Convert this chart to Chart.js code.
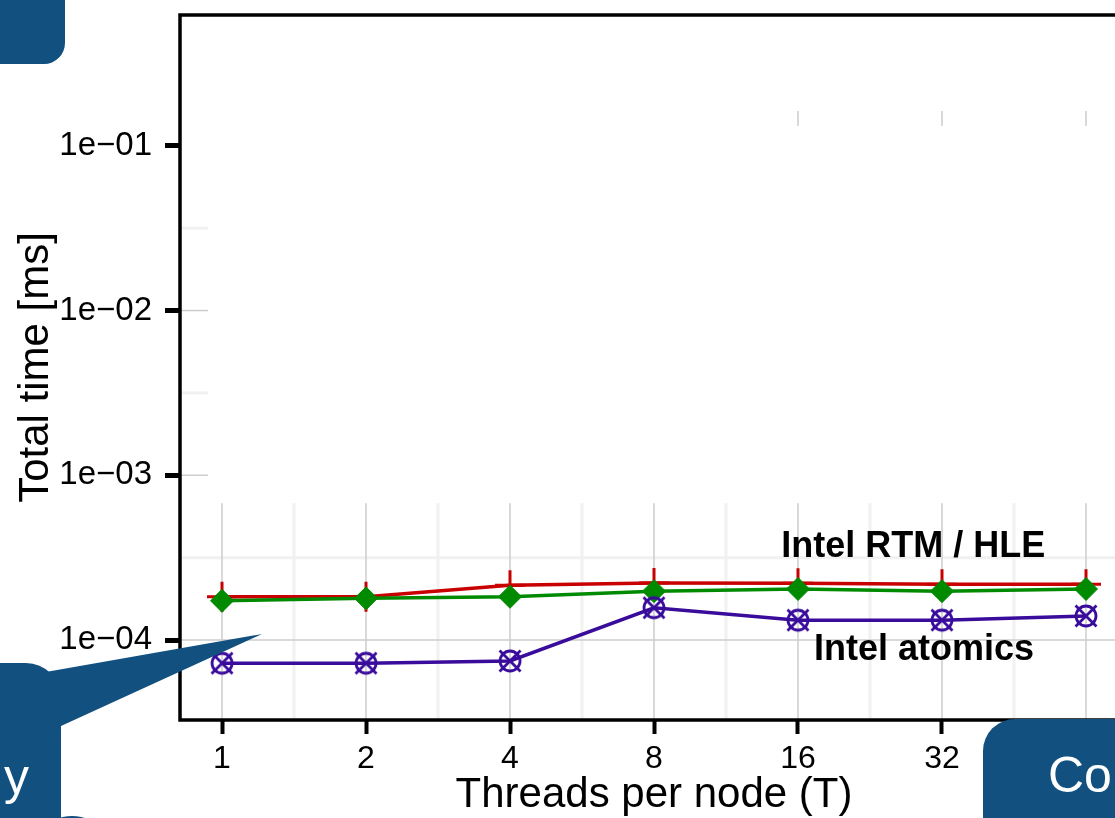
<!DOCTYPE html>
<html>
<head>
<meta charset="utf-8">
<script src="https://cdn.jsdelivr.net/npm/chart.js@4/dist/chart.umd.min.js"></script>
<style>
  html, body { margin: 0; padding: 0; background: #fff; overflow: hidden; width: 1115px; height: 818px; }
  #wrap { position: relative; width: 1115px; height: 818px; overflow: hidden; }
  #c { position: absolute; left: 0; top: -3px; }
  #overlay { position: absolute; left: 0; top: 0; }
</style>
</head>
<body>
<div id="wrap">
  <canvas id="c" width="1160" height="821"></canvas>
  <svg id="overlay" width="1115" height="818" xmlns="http://www.w3.org/2000/svg">
    <g fill="#11507f">
      <rect x="-40" y="-40" width="105" height="104" rx="21"/>
      <rect x="-60" y="663" width="121" height="220" rx="35"/>
      <polygon points="40,673 262,634 61,726 45,740"/>
      <ellipse cx="72" cy="829" rx="24" ry="13"/>
      <rect x="983" y="719" width="220" height="160" rx="32"/>
    </g>
    <g fill="#ffffff" font-family="Liberation Sans, Arial, sans-serif" font-size="50">
      <text x="4" y="794">y</text>
      <text x="1048" y="792">Cor</text>
    </g>
  </svg>
</div>
<script>
// Threads per node (x categories) and total time in ms per series
const threadLabels = ['1', '2', '4', '8', '16', '32', '64'];
const rtmTimes     = [1.83e-4, 1.83e-4, 2.15e-4, 2.22e-4, 2.21e-4, 2.18e-4, 2.18e-4];
const hleTimes     = [1.73e-4, 1.79e-4, 1.83e-4, 1.98e-4, 2.04e-4, 1.98e-4, 2.04e-4];
const atomicTimes  = [7.23e-5, 7.23e-5, 7.46e-5, 1.57e-4, 1.32e-4, 1.32e-4, 1.40e-4];

// Y axis ticks (log scale)
const yTickValues = [1e-4, 1e-3, 1e-2, 1e-1];
const yTickLabels = ['1e\u221204', '1e\u221203', '1e\u221202', '1e\u221201'];
const yMinorValues = [3.162e-4, 3.162e-3, 3.162e-2];

const FONT = 'Liberation Sans, Arial, Helvetica, sans-serif';
const RED = '#c80000', GREEN = '#008a00', PURPLE = '#3a0c9c';

// Grid is shown only in the lower band of the panel
const gridBandTop = 6.77e-4;

const toPoints = arr => arr.map((v, i) => ({ x: i, y: v }));

function crossedCircle(color) {
  const s = 28, c = document.createElement('canvas');
  c.width = s; c.height = s;
  const g = c.getContext('2d');
  g.strokeStyle = color; g.lineWidth = 2.8;
  g.beginPath(); g.arc(s / 2, s / 2, 10, 0, Math.PI * 2); g.stroke();
  g.beginPath();
  g.moveTo(s / 2 - 10.5, s / 2 - 10.5); g.lineTo(s / 2 + 10.5, s / 2 + 10.5);
  g.moveTo(s / 2 + 10.5, s / 2 - 10.5); g.lineTo(s / 2 - 10.5, s / 2 + 10.5);
  g.stroke();
  return c;
}

const labelNotes = [
  { text: 'Intel RTM / HLE', x: 4.80, y: 3.18e-4 },
  { text: 'Intel atomics',   x: 4.875, y: 7.56e-5 }
];

const bandGrid = {
  id: 'bandGrid',
  beforeDatasetsDraw(chart) {
    const { ctx, chartArea: a, scales: { x, y } } = chart;
    const top = y.getPixelForValue(gridBandTop);
    const seg = (x1, y1, x2, y2) => { ctx.beginPath(); ctx.moveTo(x1, y1); ctx.lineTo(x2, y2); ctx.stroke(); };
    ctx.save();
    // minor lines
    ctx.strokeStyle = '#f1f1f1'; ctx.lineWidth = 3;
    for (let i = 0; i < threadLabels.length - 1; i++) {
      const px = x.getPixelForValue(i + 0.5);
      seg(px, top, px, a.bottom);
    }
    yMinorValues.forEach(v => {
      const py = y.getPixelForValue(v);
      if (py >= top) seg(a.left, py, a.right, py);
      else seg(a.left, py, a.left + 28, py);
    });
    // major lines
    ctx.strokeStyle = '#cdcdcd'; ctx.lineWidth = 1.5;
    threadLabels.forEach((_, i) => {
      const px = x.getPixelForValue(i);
      seg(px, top, px, a.bottom);
      if (i >= 4) seg(px, a.top + 96, px, a.top + 111);
    });
    yTickValues.forEach(v => {
      const py = y.getPixelForValue(v);
      if (py >= top) seg(a.left, py, a.right, py);
      else if (v < 0.05) seg(a.left, py, a.left + 28, py);
    });
    // panel frame
    ctx.strokeStyle = '#000'; ctx.lineWidth = 3.5;
    ctx.strokeRect(a.left, a.top, a.right - a.left, a.bottom - a.top);
    ctx.restore();
  },
  afterDatasetsDraw(chart) {
    const { ctx, scales: { x, y } } = chart;
    ctx.save();
    ctx.fillStyle = '#000';
    ctx.font = 'bold 36px ' + FONT;
    ctx.textAlign = 'center';
    ctx.textBaseline = 'alphabetic';
    labelNotes.forEach(n => ctx.fillText(n.text, x.getPixelForValue(n.x), y.getPixelForValue(n.y)));
    ctx.restore();
  }
};

new Chart(document.getElementById('c'), {
  type: 'line',
  data: {
    datasets: [
      {
        label: 'Intel atomics',
        data: toPoints(atomicTimes),
        borderColor: PURPLE, borderWidth: 3.5,
        pointStyle: crossedCircle(PURPLE),
        order: 0
      },
      {
        label: 'Intel HLE',
        data: toPoints(hleTimes),
        borderColor: GREEN, backgroundColor: GREEN, borderWidth: 3.5,
        pointStyle: 'rectRot', pointRadius: 11.5, pointBorderWidth: 1,
        order: 1
      },
      {
        label: 'Intel RTM',
        data: toPoints(rtmTimes),
        borderColor: RED, backgroundColor: RED, borderWidth: 3.5,
        pointStyle: 'cross', pointRadius: 15, pointBorderWidth: 3,
        order: 2
      }
    ]
  },
  options: {
    responsive: false,
    animation: false,
    devicePixelRatio: 1,
    layout: { padding: { top: 11, right: 32, left: 0, bottom: 0 } },
    plugins: { legend: { display: false }, tooltip: { enabled: false } },
    elements: { line: { tension: 0 } },
    scales: {
      x: {
        type: 'linear',
        min: -0.2917, max: 6.2917,
        afterBuildTicks: s => { s.ticks = threadLabels.map((_, i) => ({ value: i })); },
        afterFit: s => { s.height = 98; s.paddingLeft = 0; s.paddingRight = 0; },
        ticks: {
          callback: v => threadLabels[v],
          font: { size: 32, family: FONT }, color: '#000',
          padding: 6, autoSkip: false, maxRotation: 0
        },
        grid: { drawOnChartArea: false, tickLength: 14, tickWidth: 4, tickColor: '#000' },
        border: { display: false },
        title: {
          display: true, text: 'Threads per node (T)', color: '#000',
          font: { size: 42, family: FONT }, padding: { top: 0, bottom: -3 }
        }
      },
      y: {
        type: 'logarithmic',
        min: 3.27e-5, max: 0.622,
        afterBuildTicks: s => { s.ticks = yTickValues.map(v => ({ value: v })); },
        afterFit: s => { s.width = 180; s.paddingTop = 0; s.paddingBottom = 0; },
        ticks: {
          callback: v => yTickLabels[yTickValues.indexOf(v)],
          font: { size: 33, family: FONT }, color: '#000', padding: 13
        },
        grid: { drawOnChartArea: false, tickLength: 15, tickWidth: 5, tickColor: '#000' },
        border: { display: false },
        title: {
          display: true, text: 'Total time [ms]', color: '#000',
          font: { size: 42, family: FONT }, padding: { top: 11, bottom: 0 }
        }
      }
    }
  },
  plugins: [bandGrid]
});
</script>
</body>
</html>
